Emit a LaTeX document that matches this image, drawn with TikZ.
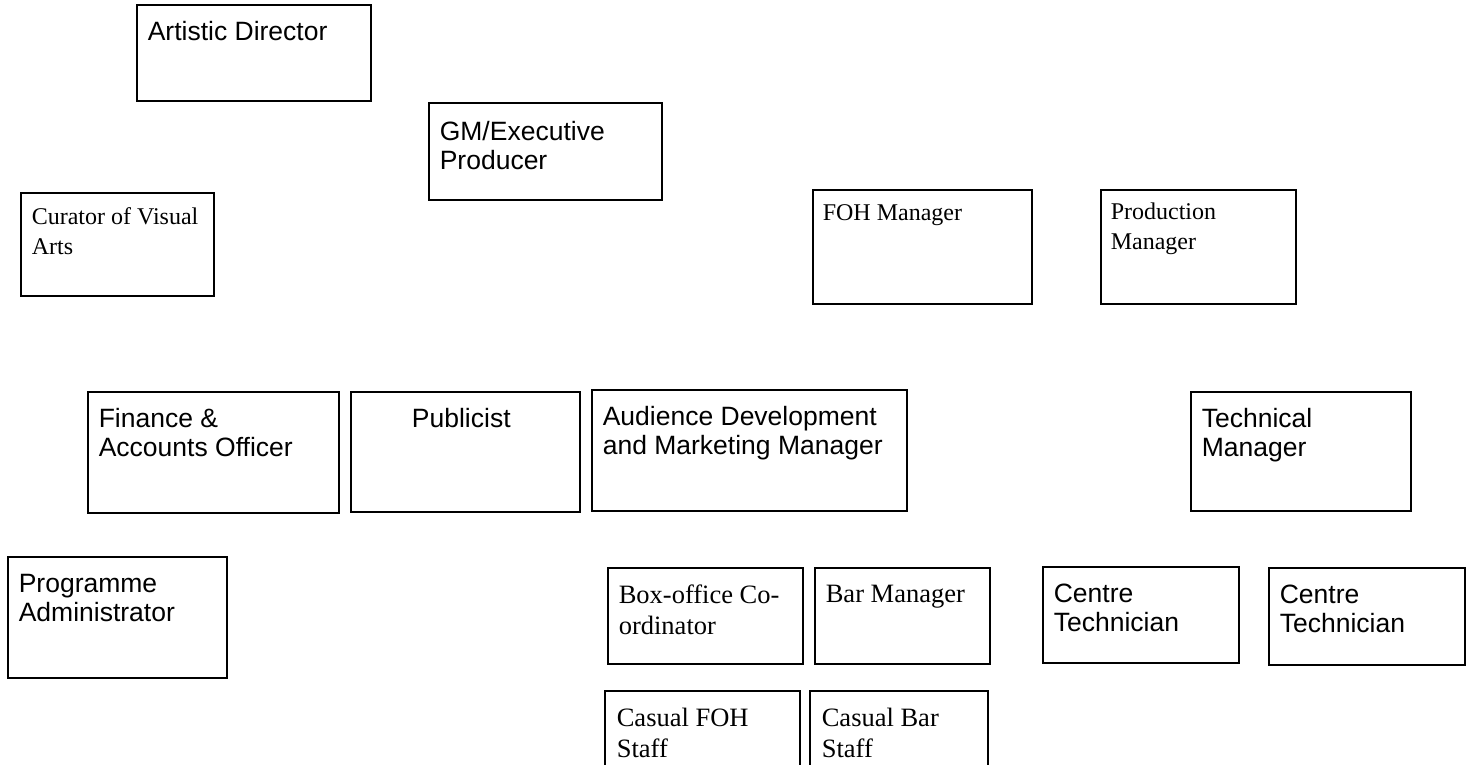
\documentclass[tikz,border=0pt]{standalone}
\usepackage{fontspec}
\setmainfont{Liberation Serif}
\setsansfont{Liberation Sans}
\usepackage{tikz}
\usetikzlibrary{positioning}
\tikzset{org_chart/.style={x=1pt,y=-1pt,line width=1.6pt}}
\tikzset{org_box/.style={draw,rectangle,anchor=north west,inner sep=0pt}}
\tikzset{sans_text/.style={anchor=north west,align=left,inner xsep=11pt,inner ysep=16pt,
    font=\sffamily\fontsize{26.5}{29}\selectfont}}
\tikzset{serif_text/.style={anchor=north west,align=left,inner xsep=11pt,inner ysep=15pt,
    font=\rmfamily\fontsize{24}{30}\selectfont}}
\tikzset{serif_large/.style={serif_text,inner ysep=17pt,
    font=\rmfamily\fontsize{26.5}{31}\selectfont}}

\begin{document}
\begin{tikzpicture}[org_chart]
    \path[use as bounding box, clip] (0,0) rectangle (1472,765);
    %\draw[help lines] (0,0) grid (1472,765);
    % top of the house
    \node[org_box, minimum width=234pt, minimum height=96pt] (artdir) at (136,4) {};
    \node[org_box, minimum width=233pt, minimum height=97pt] (gm) at (428,102) {};
    \node[org_box, minimum width=193pt, minimum height=103pt] (curator) at (20,192) {};
    \node[org_box, minimum width=219pt, minimum height=114pt] (foh) at (812,189) {};
    \node[org_box, minimum width=195pt, minimum height=114pt] (prodman) at (1100,189) {};
    % middle row
    \node[org_box, minimum width=251pt, minimum height=121pt] (finance) at (87,391) {};
    \node[org_box, minimum width=229pt, minimum height=120pt] (publicist) at (350,391) {};
    \node[org_box, minimum width=315pt, minimum height=121pt] (audience) at (591,389) {};
    \node[org_box, minimum width=220pt, minimum height=119pt] (techman) at (1190,391) {};
    % lower rows
    \node[org_box, minimum width=219pt, minimum height=121pt] (progadmin) at (7,556) {};
    \node[org_box, minimum width=195pt, minimum height=96pt] (boxoffice) at (607,567) {};
    \node[org_box, minimum width=175pt, minimum height=96pt] (barman) at (814,567) {};
    \node[org_box, minimum width=196pt, minimum height=96pt] (centre1) at (1042,566) {};
    \node[org_box, minimum width=196pt, minimum height=97pt] (centre2) at (1268,567) {};
    \node[org_box, minimum width=195pt, minimum height=100pt] (casfoh) at (604,690) {};
    \node[org_box, minimum width=178pt, minimum height=100pt] (casbar) at (809,690) {};

    % texts
    \node[sans_text] (artdir-t) at (artdir.north west) {Artistic Director};
    \node[sans_text, inner ysep=18pt] (gm-t) at (gm.north west) {GM/Executive\\Producer};
    \node[serif_text] (curator-t) at (curator.north west) {Curator of Visual\\Arts};
    \node[serif_text, inner xsep=10pt, inner ysep=15pt] (foh-t) at (foh.north west) {FOH Manager};
    \node[serif_text, inner xsep=10pt, inner ysep=13pt] (prodman-t) at (prodman.north west) {Production\\Manager};
    \node[sans_text] (finance-t) at (finance.north west) {Finance \&\\Accounts Officer};
    \node[sans_text, anchor=north, xshift=-4pt] (publicist-t) at (publicist.north) {Publicist};
    \node[sans_text] (audience-t) at (audience.north west) {Audience Development\\and Marketing Manager};
    \node[sans_text] (techman-t) at (techman.north west) {Technical\\Manager};
    \node[sans_text, inner ysep=17pt] (progadmin-t) at (progadmin.north west) {Programme\\Administrator};
    \node[serif_large] (boxoffice-t) at (boxoffice.north west) {Box-office Co-\\ordinator};
    \node[serif_large] (barman-t) at (barman.north west) {Bar Manager};
    \node[sans_text, inner ysep=17pt] (centre1-t) at (centre1.north west) {Centre\\Technician};
    \node[sans_text, inner ysep=17pt] (centre2-t) at (centre2.north west) {Centre\\Technician};
    \node[serif_large, inner xsep=12pt] (casfoh-t) at (casfoh.north west) {Casual FOH\\Staff};
    \node[serif_large, inner xsep=12pt] (casbar-t) at (casbar.north west) {Casual Bar\\Staff};
\end{tikzpicture}
\end{document}
